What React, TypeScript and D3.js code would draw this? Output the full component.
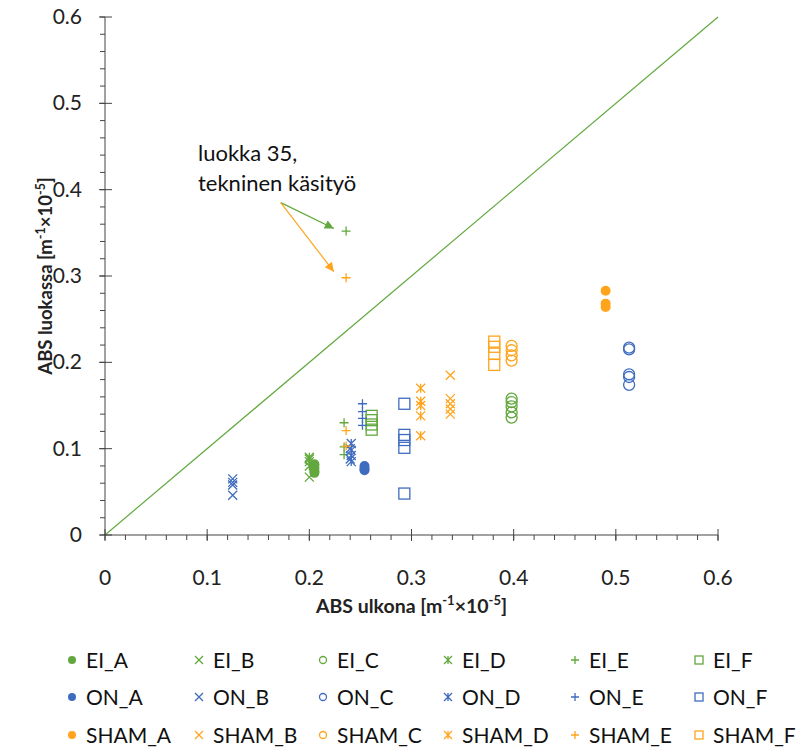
import React from 'react';
import { select, scaleLinear, range } from 'd3';

const width = 798;
const height = 751;

const plot = { left: 105, right: 718, top: 17, bottom: 535 };

const xTicks = [0, 0.1, 0.2, 0.3, 0.4, 0.5, 0.6];
const yTicks = [0, 0.1, 0.2, 0.3, 0.4, 0.5, 0.6];

// [ABS ulkona, ABS luokassa]
const EI_A = [[0.205, 0.082], [0.205, 0.078], [0.205, 0.074], [0.205, 0.072]];
const EI_B = [[0.2, 0.088], [0.2, 0.067]];
const EI_C = [[0.398, 0.158], [0.398, 0.154], [0.398, 0.149], [0.398, 0.142], [0.398, 0.136]];
const EI_D = [[0.2, 0.09], [0.2, 0.085], [0.2, 0.08]];
const EI_E = [[0.236, 0.352], [0.234, 0.13], [0.234, 0.102], [0.234, 0.093]];
const EI_F = [[0.261, 0.138], [0.261, 0.133], [0.261, 0.128], [0.261, 0.122]];

const ON_A = [[0.254, 0.08], [0.254, 0.077], [0.254, 0.075]];
const ON_B = [[0.125, 0.065], [0.125, 0.061], [0.125, 0.058], [0.125, 0.046], [0.24, 0.1], [0.24, 0.088]];
const ON_C = [[0.513, 0.217], [0.513, 0.215], [0.513, 0.186], [0.513, 0.183], [0.513, 0.174]];
const ON_D = [[0.241, 0.106], [0.241, 0.098], [0.241, 0.092], [0.241, 0.085]];
const ON_E = [[0.252, 0.152], [0.252, 0.143], [0.252, 0.135], [0.252, 0.127]];
const ON_F = [[0.293, 0.152], [0.293, 0.116], [0.293, 0.11], [0.293, 0.101], [0.293, 0.048]];

const SHAM_A = [[0.49, 0.283], [0.49, 0.268], [0.49, 0.264]];
const SHAM_B = [[0.338, 0.185], [0.338, 0.158], [0.338, 0.152], [0.338, 0.146], [0.338, 0.14]];
const SHAM_C = [[0.398, 0.219], [0.398, 0.214], [0.398, 0.208], [0.398, 0.202]];
const SHAM_D = [[0.309, 0.17], [0.309, 0.155], [0.309, 0.15], [0.309, 0.138], [0.309, 0.115]];
const SHAM_E = [[0.236, 0.298], [0.236, 0.121], [0.236, 0.103]];
const SHAM_F = [[0.381, 0.224], [0.381, 0.218], [0.381, 0.21], [0.381, 0.197]];

const green = '#62a83e';
const blue = '#3f6cbf';
const orange = '#ffa41c';

const series = [
    { name: 'EI_A', color: green, shape: 'A', data: EI_A },
    { name: 'EI_B', color: green, shape: 'B', data: EI_B },
    { name: 'EI_C', color: green, shape: 'C', data: EI_C },
    { name: 'EI_D', color: green, shape: 'D', data: EI_D },
    { name: 'EI_E', color: green, shape: 'E', data: EI_E },
    { name: 'EI_F', color: green, shape: 'F', data: EI_F },
    { name: 'ON_A', color: blue, shape: 'A', data: ON_A },
    { name: 'ON_B', color: blue, shape: 'B', data: ON_B },
    { name: 'ON_C', color: blue, shape: 'C', data: ON_C },
    { name: 'ON_D', color: blue, shape: 'D', data: ON_D },
    { name: 'ON_E', color: blue, shape: 'E', data: ON_E },
    { name: 'ON_F', color: blue, shape: 'F', data: ON_F },
    { name: 'SHAM_A', color: orange, shape: 'A', data: SHAM_A },
    { name: 'SHAM_B', color: orange, shape: 'B', data: SHAM_B },
    { name: 'SHAM_C', color: orange, shape: 'C', data: SHAM_C },
    { name: 'SHAM_D', color: orange, shape: 'D', data: SHAM_D },
    { name: 'SHAM_E', color: orange, shape: 'E', data: SHAM_E },
    { name: 'SHAM_F', color: orange, shape: 'F', data: SHAM_F },
];

const font = 'Lato, "Open Sans", sans-serif';
const axisColor = '#444';

// draws one marker centred at (0,0)
const drawMarker = (g: any, shape: string, color: string, s: number) => {
    if (shape === 'A') {
        g.append('circle').attr('r', s).attr('fill', color);
    } else if (shape === 'C') {
        g.append('circle').attr('r', s - 0.5).attr('fill', 'none').attr('stroke', color).attr('stroke-width', 1.3);
    } else if (shape === 'F') {
        g.append('rect').attr('x', -s).attr('y', -s).attr('width', 2 * s).attr('height', 2 * s)
            .attr('fill', 'none').attr('stroke', color).attr('stroke-width', 1.3);
    } else {
        let d = '';
        if (shape === 'B' || shape === 'D') d += `M${-s},${-s}L${s},${s}M${-s},${s}L${s},${-s}`;
        if (shape === 'D') d += `M0,${-s}L0,${s}`;
        if (shape === 'E') d += `M${-s},0L${s},0M0,${-s}L0,${s}`;
        g.append('path').attr('d', d).attr('fill', 'none').attr('stroke', color).attr('stroke-width', 1.3);
    }
};

const App: React.FC = () => {
    const ref = React.useRef<SVGSVGElement>(null);

    React.useEffect(() => {
        const svg = select(ref.current);
        svg.selectAll('*').remove();

        const x = scaleLinear().domain([0, 0.6]).range([plot.left, plot.right]);
        const y = scaleLinear().domain([0, 0.6]).range([plot.bottom, plot.top]);

        const x0 = x(0), y0 = y(0);

        // arrow heads
        const defs = svg.append('defs');
        [['ahG', green], ['ahO', orange]].forEach(([id, c]) => {
            defs.append('marker').attr('id', id).attr('viewBox', '0 0 10 10')
                .attr('refX', 10).attr('refY', 5).attr('markerWidth', 11).attr('markerHeight', 9)
                .attr('markerUnits', 'userSpaceOnUse').attr('orient', 'auto')
                .append('path').attr('d', 'M0,0L10,5L0,10Z').attr('fill', c);
        });

        // 1:1 line
        svg.append('line')
            .attr('x1', x(0)).attr('y1', y(0)).attr('x2', x(0.6)).attr('y2', y(0.6))
            .attr('stroke', green).attr('stroke-width', 1.2);

        // minor ticks
        const minor = range(0, 0.6001, 0.02);
        svg.append('g').selectAll('line').data(minor).enter().append('line')
            .attr('x1', d => x(d)).attr('x2', d => x(d)).attr('y1', y0).attr('y2', y0 + 5)
            .attr('stroke', axisColor);
        svg.append('g').selectAll('line').data(minor).enter().append('line')
            .attr('y1', d => y(d)).attr('y2', d => y(d)).attr('x1', x0 - 5).attr('x2', x0)
            .attr('stroke', axisColor);

        // major ticks (cross)
        svg.append('g').selectAll('line').data(xTicks).enter().append('line')
            .attr('x1', d => x(d)).attr('x2', d => x(d)).attr('y1', y0 - 6).attr('y2', y0 + 6)
            .attr('stroke', axisColor);
        svg.append('g').selectAll('line').data(yTicks).enter().append('line')
            .attr('y1', d => y(d)).attr('y2', d => y(d)).attr('x1', x0 - 6).attr('x2', x0 + 7)
            .attr('stroke', axisColor);

        // axis lines
        svg.append('line').attr('x1', x0).attr('x2', x(0.6)).attr('y1', y0).attr('y2', y0).attr('stroke', axisColor);
        svg.append('line').attr('x1', x0).attr('x2', x0).attr('y1', y0).attr('y2', y(0.6)).attr('stroke', axisColor);

        // tick labels
        svg.append('g').selectAll('text').data(xTicks).enter().append('text')
            .attr('x', d => x(d)).attr('y', y0 + 50).attr('text-anchor', 'middle')
            .attr('font-family', font).attr('font-size', 21).attr('fill', '#222')
            .text(d => String(d));
        svg.append('g').selectAll('text').data(yTicks).enter().append('text')
            .attr('x', x0 - 23).attr('y', d => y(d) + 7).attr('text-anchor', 'end')
            .attr('font-family', font).attr('font-size', 21).attr('fill', '#222')
            .text(d => String(d));

        // axis titles
        const xt = svg.append('text').attr('x', (x(0) + x(0.6)) / 2).attr('y', 613)
            .attr('text-anchor', 'middle').attr('font-family', font).attr('font-size', 19.5)
            .attr('font-weight', 'bold').attr('fill', '#222');
        xt.append('tspan').text('ABS ulkona [m');
        xt.append('tspan').attr('dy', -8).attr('font-size', 13).text('-1');
        xt.append('tspan').attr('dy', 8).text('×10');
        xt.append('tspan').attr('dy', -8).attr('font-size', 13).text('-5');
        xt.append('tspan').attr('dy', 8).text(']');

        const yt = svg.append('text')
            .attr('transform', `translate(52,${(y(0) + y(0.6)) / 2}) rotate(-90)`)
            .attr('text-anchor', 'middle').attr('font-family', font).attr('font-size', 18.5)
            .attr('font-weight', 'bold').attr('fill', '#222');
        yt.append('tspan').text('ABS luokassa [m');
        yt.append('tspan').attr('dy', -7).attr('font-size', 12.5).text('-1');
        yt.append('tspan').attr('dy', 7).text('×10');
        yt.append('tspan').attr('dy', -7).attr('font-size', 12.5).text('-5');
        yt.append('tspan').attr('dy', 7).text(']');

        // points
        series.forEach(s => {
            const size = s.shape === 'A' ? 5 : s.shape === 'C' ? 6 : s.shape === 'F' ? 5.5 : 4.5;
            s.data.forEach(p => {
                const g = svg.append('g').attr('transform', `translate(${x(p[0])},${y(p[1])})`);
                drawMarker(g, s.shape, s.color, size);
            });
        });

        // annotation
        svg.append('text').attr('x', 198).attr('y', 161).attr('font-family', font).attr('font-size', 22)
            .attr('fill', '#111').text('luokka 35,');
        svg.append('text').attr('x', 198).attr('y', 191).attr('font-family', font).attr('font-size', 22)
            .attr('fill', '#111').text('tekninen käsityö');
        svg.append('line').attr('x1', x(0.172)).attr('y1', y(0.385)).attr('x2', x(0.224)).attr('y2', y(0.355))
            .attr('stroke', green).attr('stroke-width', 1.2).attr('marker-end', 'url(#ahG)');
        svg.append('line').attr('x1', x(0.172)).attr('y1', y(0.385)).attr('x2', x(0.224)).attr('y2', y(0.305))
            .attr('stroke', orange).attr('stroke-width', 1.2).attr('marker-end', 'url(#ahO)');

        // legend
        const colX = [72, 199, 323, 448, 575, 699];
        const rowY = [660, 697, 735];
        series.forEach((s, i) => {
            const cx = colX[i % 6];
            const cy = rowY[Math.floor(i / 6)];
            const g = svg.append('g').attr('transform', `translate(${cx},${cy})`);
            drawMarker(g, s.shape, s.color, 4);
            svg.append('text').attr('x', cx + 14).attr('y', cy + 7.5).attr('font-family', font)
                .attr('font-size', 21).attr('fill', '#111').text(s.name);
        });
    }, []);

    return (
        <div style={{ position: 'absolute', left: 0, top: 0 }}>
            <svg ref={ref} width={width} height={height} style={{ display: 'block', background: '#fff' }} />
        </div>
    );
};

export default App;
